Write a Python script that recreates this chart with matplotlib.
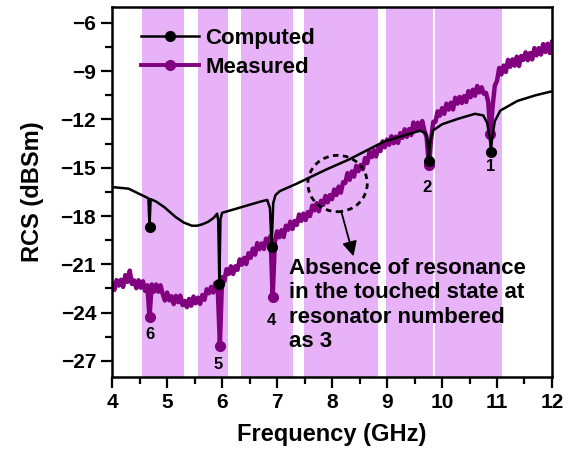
import numpy as np
import matplotlib
matplotlib.use("Agg")
import matplotlib.pyplot as plt
from matplotlib.lines import Line2D
from matplotlib.patches import Ellipse
from matplotlib.ticker import MultipleLocator

plt.rcParams['font.family'] = ['Liberation Sans', 'DejaVu Sans']
plt.rcParams['font.weight'] = 'bold'

# ---------------- data ----------------
# shaded frequency bands (GHz)
band_start = [4.54, 5.56, 6.35, 7.49, 8.98, 9.88]
band_end = [5.31, 6.10, 7.29, 8.84, 9.84, 11.09]

# computed RCS (dBsm)
comp_f = [4.00, 4.15, 4.30, 4.45, 4.60, 4.66, 4.68, 4.70, 4.80, 4.95, 5.05, 5.15,
          5.30, 5.45, 5.55, 5.65, 5.75, 5.85, 5.91, 5.93, 5.95, 5.97, 6.00, 6.10,
          6.30, 6.50, 6.70, 6.82, 6.87, 6.90, 6.93, 6.97, 7.05, 7.35, 7.90, 8.30,
          8.93, 9.30, 9.60, 9.70, 9.74, 9.76, 9.78, 9.83, 10.00, 10.30, 10.60, 10.75,
          10.82, 10.87, 10.89, 10.91, 10.96, 11.06, 11.37, 11.70, 12.00]
comp_db = [-16.2, -16.25, -16.3, -16.55, -16.8, -16.9, -18.7, -16.95, -17.1, -17.45, -17.75, -18.05,
           -18.4, -18.6, -18.6, -18.5, -18.35, -18.1, -17.85, -18.3, -22.25, -18.2, -17.8, -17.7,
           -17.5, -17.3, -17.1, -17.0, -17.5, -19.95, -17.2, -16.7, -16.45, -16.0, -15.1, -14.5,
           -13.4, -13.0, -12.7, -12.85, -13.4, -14.55, -13.5, -12.7, -12.3, -11.95, -11.65, -11.75,
           -12.2, -13.2, -14.0, -13.2, -12.1, -11.45, -10.85, -10.5, -10.25]

# measured RCS (dBsm), sampled every 0.04 GHz from 4 to 12 GHz
meas_db = [
    # 4.00 - 4.96
    -22.25, -22.59, -21.98, -22.32, -21.96, -22.40, -21.67, -22.09, -21.39, -22.22,
    -22.00, -22.48, -21.99, -22.45, -22.05, -22.65, -22.30, -24.30, -22.25, -22.70,
    -22.25, -22.70, -22.30, -22.85, -23.25,
    # 5.00 - 5.96
    -22.75, -23.24, -22.98, -23.47, -22.96, -23.35, -22.94, -23.53, -23.27, -23.66,
    -23.15, -23.57, -23.00, -23.42, -23.07, -23.46, -22.91, -23.20, -22.55, -22.80,
    -22.40, -22.75, -22.15, -22.45, -26.05,
    # 6.00 - 6.96
    -21.80, -22.05, -21.30, -21.60, -21.12, -21.60, -21.12, -21.34, -20.69, -21.02,
    -20.60, -20.98, -20.31, -20.59, -20.02, -20.40, -19.68, -20.06, -19.70, -20.05,
    -19.40, -19.70, -19.25, -23.05, -19.60,
    # 7.00 - 7.96
    -18.95, -19.32, -18.88, -19.30, -18.60, -18.85, -18.35, -18.80, -18.30, -18.55,
    -17.90, -18.30, -17.85, -18.25, -17.75, -18.00, -17.35, -17.65, -17.20, -17.70,
    -17.05, -17.30, -16.75, -17.15, -16.70,
    # 8.00 - 8.96
    -16.95, -16.35, -16.70, -16.17, -16.55, -15.90, -15.95, -15.33, -15.75, -15.23,
    -15.55, -14.88, -15.21, -14.83, -15.09, -14.40, -14.71, -14.02, -14.34, -13.92,
    -14.30, -13.73, -13.96, -13.36, -13.73,
    # 9.00 - 9.96
    -13.25, -13.57, -13.04, -13.48, -13.07, -13.46, -12.85, -13.14, -12.61, -13.08,
    -12.60, -12.97, -12.19, -12.66, -12.20, -12.60, -12.10, -12.70, -13.10, -14.85,
    -13.30, -12.15, -12.15, -11.50, -11.77,
    # 10.00 - 10.96
    -11.30, -11.65, -11.02, -11.39, -10.96, -11.38, -10.65, -11.02, -10.60, -10.98,
    -10.55, -10.92, -10.24, -10.62, -10.15, -10.53, -9.92, -10.32, -10.00, -10.40,
    -10.35, -10.90, -12.90, -11.20, -9.90,
    # 11.00 - 12.00
    -9.60, -8.80, -9.20, -8.65, -9.05, -8.30, -8.73, -8.27, -8.66, -8.10,
    -8.68, -8.06, -8.30, -7.83, -8.32, -7.87, -8.27, -7.57, -8.02, -7.57,
    -7.97, -7.32, -7.81, -7.30, -7.87, -7.20,
]
meas_f = np.linspace(4.0, 12.0, len(meas_db))

# resonance dip frequencies and their labels
comp_dip_f = [4.68, 5.95, 6.90, 9.76, 10.89]
meas_dip_f = [4.68, 5.96, 6.92, 9.76, 10.88]
dip_label = ['6', '5', '4', '2', '1']
dip_label_f = [4.69, 5.93, 6.90, 9.72, 10.89]
dip_label_db = [-25.35, -27.25, -24.5, -16.2, -14.95]

annot_text = "Absence of resonance\nin the touched state at\nresonator numbered\nas 3"

# ---------------- plot ----------------
BAND = '#E8B2F8'
PURPLE = '#800080'

fig = plt.figure(figsize=(5.78, 4.51), dpi=100)
ax = fig.add_axes([0.194, 0.164, 0.761, 0.821])

for s, e in zip(band_start, band_end):
    ax.axvspan(s, e, color=BAND, lw=0, zorder=0)

meas_idx = [int(np.argmin(np.abs(meas_f - f))) for f in meas_dip_f]
comp_idx = [comp_f.index(f) for f in comp_dip_f]

ax.plot(meas_f, meas_db, color=PURPLE, lw=3.2, marker='o', ms=7,
        markevery=meas_idx, zorder=2)
ax.plot(comp_f, comp_db, color='black', lw=1.8, marker='o', ms=7,
        markevery=comp_idx, zorder=3)

for lab, f, v in zip(dip_label, dip_label_f, dip_label_db):
    ax.text(f, v, lab, ha='center', va='center', fontsize=12, fontweight='bold')

ax.add_patch(Ellipse((8.10, -15.98), 1.08, 3.5, fill=False, ec='black', lw=2,
                     linestyle=(0, (2, 1.6)), zorder=4))
ax.annotate('', xy=(8.39, -20.5), xytext=(8.17, -17.75),
            arrowprops=dict(arrowstyle='-|>', color='black', lw=1.3,
                            mutation_scale=22, shrinkA=0, shrinkB=0), zorder=4)
ax.text(7.21, -20.6, annot_text, ha='left', va='top', fontsize=16,
        fontweight='bold', linespacing=1.22, zorder=5)

ax.set_xlim(4, 12)
ax.set_ylim(-28, -5)
ax.xaxis.set_major_locator(MultipleLocator(1))
ax.xaxis.set_minor_locator(MultipleLocator(0.5))
ax.set_yticks([-27, -24, -21, -18, -15, -12, -9, -6])
ax.yaxis.set_minor_locator(MultipleLocator(1.5))
ax.tick_params(which='major', direction='out', length=8, width=1.6,
               labelsize=15, top=False, right=False)
ax.tick_params(which='minor', direction='out', length=5, width=1.6,
               top=False, right=False)
for sp in ax.spines.values():
    sp.set_linewidth(1.8)

ax.set_xlabel('Frequency (GHz)', fontsize=17, fontweight='bold', labelpad=8)
ax.set_ylabel('RCS (dBSm)', fontsize=17, fontweight='bold', labelpad=12)

handles = [Line2D([], [], color='black', lw=1.8, marker='o', ms=7),
           Line2D([], [], color=PURPLE, lw=2.8, marker='o', ms=7)]
ax.legend(handles, ['Computed', 'Measured'], loc='upper left',
          bbox_to_anchor=(0.02, 0.997), frameon=False,
          handlelength=2.6, handletextpad=0.3, labelspacing=0.35,
          prop={'weight': 'bold', 'size': 16})

fig.savefig('out.png', dpi=100)
